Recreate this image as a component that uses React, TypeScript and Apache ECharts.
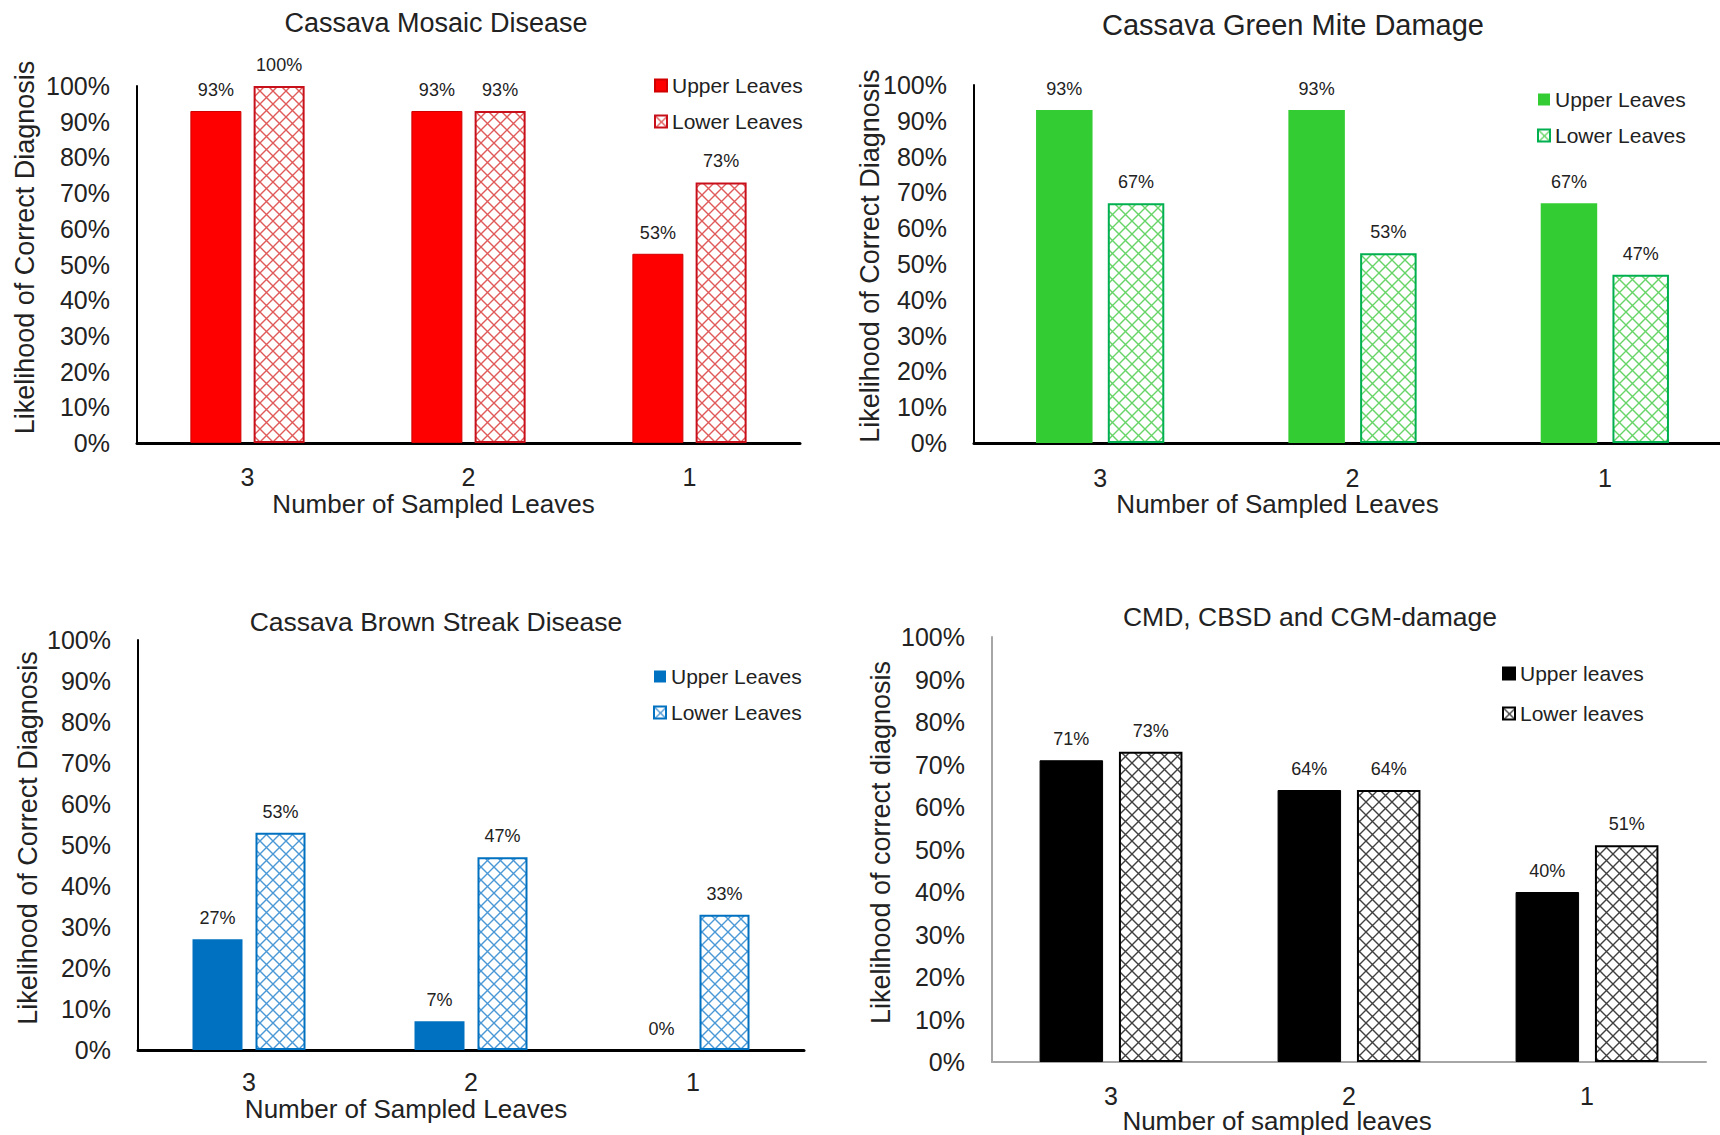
import React, { useEffect, useRef } from 'react';
import * as echarts from 'echarts';

// ---- data ----
const categories = ['3', '2', '1'];
const cmdUpper = [93, 93, 53];
const cmdLower = [100, 93, 73];
const cgmUpper = [93, 93, 67];
const cgmLower = [67, 53, 47];
const cbsdUpper = [27, 7, 0];
const cbsdLower = [53, 47, 33];
const allUpper = [71, 64, 40];
const allLower = [73, 64, 51];

const FONT = "'Liberation Sans', Arial, Helvetica, sans-serif";
const TEXT = '#222222';

function hatch(color: string) {
  const svg = `<svg xmlns='http://www.w3.org/2000/svg' width='13' height='13'><rect width='13' height='13' fill='#ffffff'/><path d='M0 0L13 13M13 0L0 13' stroke='${color}' stroke-width='1.4' fill='none'/></svg>`;
  return {
    image: 'data:image/svg+xml;charset=utf-8,' + encodeURIComponent(svg),
    repeat: 'repeat',
    imageWidth: 13,
    imageHeight: 13,
  };
}

interface Panel {
  box: { left: number; top: number; width: number; height: number };
  shift: number; // extra room on the left of the panel box
  title: string;
  titleX: number;
  titleY: number;
  titleSize: number;
  grid: { left: number; top: number; width: number; height: number };
  yName: string;
  yNameGap: number;
  yNamePad: number;
  xName: string;
  xNameGap: number;
  xNamePad: number;
  xLabelMargin: number;
  upperName: string;
  lowerName: string;
  upper: number[];
  lower: number[];
  fill: string;
  upperBorder: string;
  upperBorderWidth: number;
  lowerBorder: string;
  hatchColor: string;
  barWidth: number;
  barGap: string;
  legendLeft: number;
  legendTop: number;
  legendGap: number;
  axisColor: string;
  xAxisWidth: number;
  yAxisWidth: number;
}

const panels: Panel[] = [
  {
    box: { left: 0, top: 0, width: 860, height: 568 }, shift: 0,
    title: 'Cassava Mosaic Disease', titleX: 436, titleY: 23, titleSize: 27,
    grid: { left: 137, top: 86, width: 663, height: 357 },
    yName: 'Likelihood of Correct Diagnosis', yNameGap: 99, yNamePad: 34,
    xName: 'Number of Sampled Leaves', xNameGap: 48, xNamePad: 70, xLabelMargin: 21,
    upperName: 'Upper Leaves', lowerName: 'Lower Leaves',
    upper: cmdUpper, lower: cmdLower,
    fill: '#ff0000', upperBorder: '#d00000', upperBorderWidth: 1,
    lowerBorder: '#c8101a', hatchColor: '#e05a5a',
    barWidth: 51, barGap: '24%',
    legendLeft: 654, legendTop: 75, legendGap: 15,
    axisColor: '#000000', xAxisWidth: 3, yAxisWidth: 2,
  },
  {
    box: { left: 820, top: 0, width: 900, height: 568 }, shift: 40,
    title: 'Cassava Green Mite Damage', titleX: 433, titleY: 25, titleSize: 29,
    grid: { left: 114, top: 85, width: 757, height: 358 },
    yName: 'Likelihood of Correct Diagnosis', yNameGap: 91, yNamePad: 16,
    xName: 'Number of Sampled Leaves', xNameGap: 48, xNamePad: 150, xLabelMargin: 22,
    upperName: 'Upper Leaves', lowerName: 'Lower Leaves',
    upper: cgmUpper, lower: cgmLower,
    fill: '#33cc33', upperBorder: '#33cc33', upperBorderWidth: 0,
    lowerBorder: '#00b050', hatchColor: '#66d466',
    barWidth: 56.5, barGap: '27%',
    legendLeft: 677, legendTop: 89, legendGap: 15,
    axisColor: '#000000', xAxisWidth: 3, yAxisWidth: 2,
  },
  {
    box: { left: 0, top: 568, width: 860, height: 567 }, shift: 0,
    title: 'Cassava Brown Streak Disease', titleX: 436, titleY: 54, titleSize: 26.5,
    grid: { left: 138, top: 72, width: 666, height: 410 },
    yName: 'Likelihood of Correct Diagnosis', yNameGap: 97, yNamePad: 14,
    xName: 'Number of Sampled Leaves', xNameGap: 46, xNamePad: 130, xLabelMargin: 19,
    upperName: 'Upper Leaves', lowerName: 'Lower Leaves',
    upper: cbsdUpper, lower: cbsdLower,
    fill: '#0070c0', upperBorder: '#0070c0', upperBorderWidth: 0,
    lowerBorder: '#0070c0', hatchColor: '#4a98d6',
    barWidth: 50, barGap: '26%',
    legendLeft: 653, legendTop: 98, legendGap: 15,
    axisColor: '#000000', xAxisWidth: 3, yAxisWidth: 2,
  },
  {
    box: { left: 820, top: 568, width: 900, height: 567 }, shift: 40,
    title: 'CMD, CBSD and CGM-damage', titleX: 450, titleY: 49, titleSize: 26.5,
    grid: { left: 132, top: 69, width: 714, height: 425 },
    yName: 'Likelihood of correct diagnosis', yNameGap: 98, yNamePad: 14,
    xName: 'Number of sampled leaves', xNameGap: 46, xNamePad: 144, xLabelMargin: 21,
    upperName: 'Upper leaves', lowerName: 'Lower leaves',
    upper: allUpper, lower: allLower,
    fill: '#000000', upperBorder: '#000000', upperBorderWidth: 1,
    lowerBorder: '#000000', hatchColor: '#404040',
    barWidth: 63.5, barGap: '25%',
    legendLeft: 642, legendTop: 95, legendGap: 19,
    axisColor: '#a6a6a6', xAxisWidth: 2, yAxisWidth: 2,
  },
];

function buildOption(p: Panel) {
  const s = p.shift;
  const labelCfg = {
    show: true,
    position: 'top',
    distance: 12,
    formatter: '{c}%',
    fontSize: 18,
    fontFamily: FONT,
    color: TEXT,
  };
  return {
    animation: false,
    title: {
      text: p.title,
      left: p.titleX + s,
      top: p.titleY,
      textAlign: 'center',
      textVerticalAlign: 'middle',
      padding: 0,
      textStyle: { fontFamily: FONT, fontSize: p.titleSize, fontWeight: 'normal', color: TEXT },
    },
    legend: {
      orient: 'vertical',
      left: p.legendLeft + s,
      top: p.legendTop,
      padding: 0,
      itemWidth: 12,
      itemHeight: 12,
      itemGap: p.legendGap,
      icon: 'rect',
      selectedMode: false,
      textStyle: { fontFamily: FONT, fontSize: 21, color: TEXT },
      data: [p.upperName, p.lowerName],
    },
    grid: { ...p.grid, left: p.grid.left + s, containLabel: false, outerBoundsMode: 'none' },
    xAxis: {
      type: 'category',
      data: categories,
      axisTick: { show: false },
      axisLine: { show: true, lineStyle: { color: p.axisColor, width: p.xAxisWidth } },
      axisLabel: { margin: p.xLabelMargin, fontSize: 25, fontFamily: FONT, color: TEXT },
      name: p.xName,
      nameLocation: 'middle',
      nameGap: p.xNameGap,
      nameMoveOverlap: false,
      nameTextStyle: { fontSize: 26, fontFamily: FONT, color: TEXT, padding: [0, p.xNamePad, 0, 0] },
    },
    yAxis: {
      type: 'value',
      min: 0,
      max: 100,
      interval: 10,
      axisLine: { show: true, lineStyle: { color: p.axisColor, width: p.yAxisWidth } },
      axisTick: { show: false },
      splitLine: { show: false },
      axisLabel: { formatter: '{value}%', margin: 27, fontSize: 25, fontFamily: FONT, color: TEXT },
      name: p.yName,
      nameLocation: 'middle',
      nameGap: p.yNameGap,
      nameMoveOverlap: false,
      nameTextStyle: { fontSize: 27, fontFamily: FONT, color: TEXT, padding: [0, 0, 0, p.yNamePad] },
    },
    series: [
      {
        type: 'bar',
        name: p.upperName,
        data: p.upper,
        barWidth: p.barWidth,
        barGap: p.barGap,
        itemStyle: { color: p.fill, borderColor: p.upperBorder, borderWidth: p.upperBorderWidth },
        label: labelCfg,
      },
      {
        type: 'bar',
        name: p.lowerName,
        data: p.lower,
        barWidth: p.barWidth,
        barGap: p.barGap,
        itemStyle: { color: hatch(p.hatchColor), borderColor: p.lowerBorder, borderWidth: 2 },
        label: labelCfg,
      },
    ],
  };
}

function ChartPanel({ panel }: { panel: Panel }) {
  const ref = useRef<HTMLDivElement>(null);
  useEffect(() => {
    if (!ref.current) return;
    const chart = echarts.init(ref.current, undefined, { renderer: 'svg' });
    chart.setOption(buildOption(panel) as any);
    return () => chart.dispose();
  }, [panel]);
  return (
    <div
      ref={ref}
      style={{
        position: 'absolute',
        left: panel.box.left,
        top: panel.box.top,
        width: panel.box.width,
        height: panel.box.height,
        overflow: 'hidden',
      }}
    />
  );
}

export default function App() {
  return (
    <div
      style={{
        position: 'absolute',
        left: 0,
        top: 0,
        width: 1720,
        height: 1135,
        background: '#ffffff',
        overflow: 'hidden',
      }}
    >
      {panels.map((p, i) => (
        <ChartPanel key={i} panel={p} />
      ))}
    </div>
  );
}
